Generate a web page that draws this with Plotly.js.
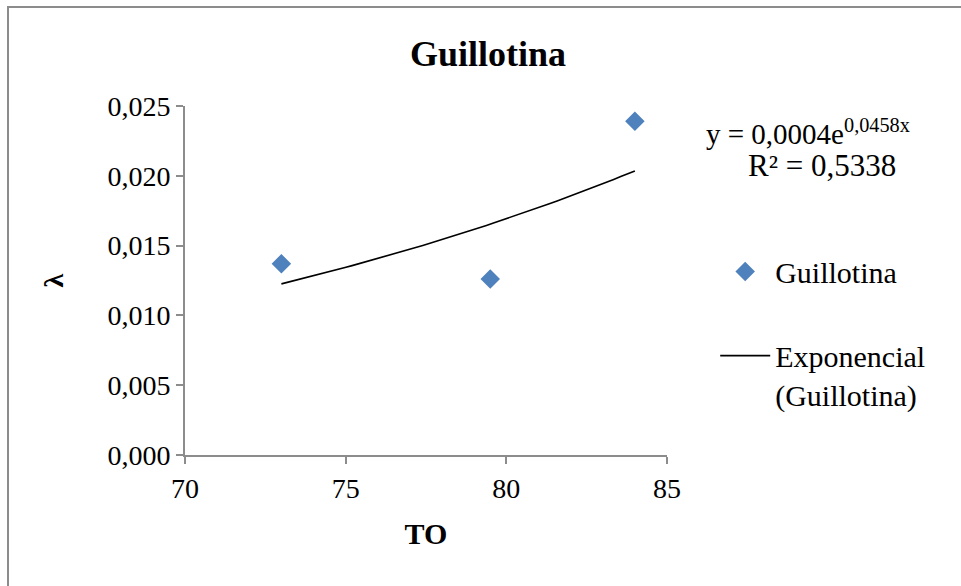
<!DOCTYPE html>
<html>
<head>
<meta charset="utf-8">
<script src="https://cdn.plot.ly/plotly-3.0.1.min.js"></script>
<style>
html,body{margin:0;padding:0;background:#fff;}
#wrap{position:relative;width:961px;height:586px;overflow:hidden;}
#chart{position:absolute;left:0;top:0;width:961px;height:586px;}
#frame{position:absolute;left:7px;top:6px;width:1000px;height:700px;border-left:2px solid #8c8c8c;border-top:2px solid #8c8c8c;pointer-events:none;}
</style>
</head>
<body>
<div id="wrap"><div id="chart"></div><div id="frame"></div></div>
<script>
const xValues = [73, 79.5, 84];
const yValues = [0.0137, 0.0126, 0.0239];
const seriesName = 'Guillotina';
const trendName = 'Exponencial<br>(Guillotina)';
const equationLine1 = 'y = 0,0004e<sup>0,0458x</sup>';
const equationLine2 = 'R² = 0,5338';
const yTicks = [0, 0.005, 0.010, 0.015, 0.020, 0.025];
const xTicks = [70, 75, 80, 85];

// Exponential least-squares fit on ln(y), like a spreadsheet trendline
const n = xValues.length;
const lny = yValues.map(v => Math.log(v));
const mx = xValues.reduce((a, b) => a + b, 0) / n;
const my = lny.reduce((a, b) => a + b, 0) / n;
let sxx = 0, sxy = 0;
for (let i = 0; i < n; i++) { sxx += (xValues[i] - mx) ** 2; sxy += (xValues[i] - mx) * (lny[i] - my); }
const b = sxy / sxx, lnA = my - b * mx;
const xMin = Math.min(...xValues), xMax = Math.max(...xValues);
const tx = [], ty = [];
for (let k = 0; k <= 50; k++) { const x = xMin + (xMax - xMin) * k / 50; tx.push(x); ty.push(Math.exp(lnA + b * x)); }

const serif = 'Liberation Serif, Times New Roman, serif';
const traces = [
  { x: xValues, y: yValues, type: 'scatter', mode: 'markers', name: seriesName,
    marker: { symbol: 'diamond', size: 15, color: '#4F81BD' }, legendgroup: 'a' },
  { x: tx, y: ty, type: 'scatter', mode: 'lines', name: trendName,
    line: { color: '#000', width: 1.6 }, legendgroup: 'b' }
];
const layout = {
  width: 961, height: 586,
  margin: { l: 185, r: 294, t: 106, b: 131 },
  paper_bgcolor: '#fff', plot_bgcolor: '#fff',
  separators: ',.',
  font: { family: serif, color: '#000', size: 28 },
  title: { text: '<b>Guillotina</b>', x: 488 / 961, xanchor: 'center', y: 1 - 53 / 586, yanchor: 'middle',
           font: { family: serif, size: 36, color: '#000' } },
  xaxis: { range: [70, 85], tickvals: xTicks, ticktext: xTicks.map(String), showgrid: false, zeroline: false,
           showline: true, linecolor: '#8c8c8c', linewidth: 2, ticks: 'outside', ticklen: 7, tickcolor: '#8c8c8c', tickwidth: 2,
           tickfont: { family: serif, size: 28 }, title: { text: '<b>TO</b>', font: { family: serif, size: 30 }, standoff: 20 } },
  yaxis: { range: [0, 0.025], tickvals: yTicks, tickformat: '.3f', showgrid: false, zeroline: false,
           showline: true, linecolor: '#8c8c8c', linewidth: 2, ticks: 'outside', ticklen: 7, tickcolor: '#8c8c8c', tickwidth: 2,
           tickfont: { family: serif, size: 28 }, title: { text: '<b>λ</b>', font: { family: serif, size: 28 }, standoff: 36 } },
  showlegend: true,
  legend: { x: 1.1, xanchor: 'left', y: 0.60, yanchor: 'top', font: { family: serif, size: 30 }, bgcolor: 'rgba(0,0,0,0)',
            tracegroupgap: 42, itemwidth: 50, valign: 'top' },
  annotations: [
    { xref: 'paper', yref: 'paper', x: (808 - 185) / 482, y: (455 - 132) / 349, text: equationLine1, showarrow: false,
      font: { family: serif, size: 29 }, xanchor: 'center', yanchor: 'middle' },
    { xref: 'paper', yref: 'paper', x: (822 - 185) / 482, y: (455 - 165) / 349, text: equationLine2, showarrow: false,
      font: { family: serif, size: 31 }, xanchor: 'center', yanchor: 'middle' }
  ]
};
Plotly.newPlot('chart', traces, layout, { displayModeBar: false, staticPlot: true });
</script>
</body>
</html>
